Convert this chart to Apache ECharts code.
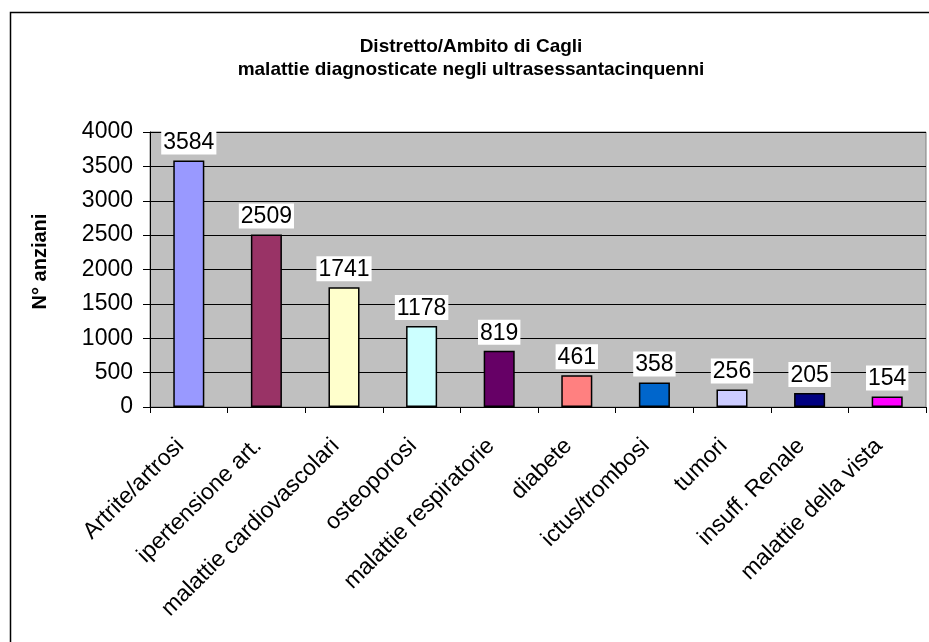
<!DOCTYPE html>
<html><head><meta charset="utf-8">
<script src="https://cdn.jsdelivr.net/npm/echarts@6/dist/echarts.min.js"></script>
<style>html,body{margin:0;padding:0;background:#fff}#c{width:929px;height:642px}</style>
</head><body><div id="c"></div>
<script>
const categories = ['Artrite/artrosi','ipertensione art.','malattie cardiovascolari','osteoporosi','malattie respiratorie','diabete','ictus/trombosi','tumori','insuff. Renale','malattie della vista'];
const values = [3584,2509,1741,1178,819,461,358,256,205,154];
const barColors = ['#9999FF','#993366','#FFFFCC','#CCFFFF','#660066','#FF8080','#0066CC','#CCCCFF','#000080','#FF00FF'];
const titleText = 'Distretto/Ambito di Cagli\nmalattie diagnosticate negli ultrasessantacinquenni';
const yName = 'N° anziani';

const chart = echarts.init(document.getElementById('c'), null, {renderer:'canvas'});
chart.setOption({
  animation:false,
  backgroundColor:'#fff',
  textStyle:{fontFamily:'Arial, "Liberation Sans", sans-serif'},
  title:{text:titleText,left:466,top:30,textAlign:'center',
    textStyle:{fontSize:19,fontWeight:'bold',color:'#000',lineHeight:23,fontFamily:'Arial, "Liberation Sans", sans-serif'}},
  graphic:[{type:'rect',left:8,top:10,shape:{width:1000,height:700},style:{fill:null,stroke:'#000',lineWidth:1.5},silent:true}],
  grid:{left:150,right:3,top:132,bottom:235,show:true,backgroundColor:'#C0C0C0',borderColor:'#808080',borderWidth:1},
  xAxis:{type:'category',data:categories,
    axisLine:{lineStyle:{color:'#000',width:1}},
    axisTick:{show:true,length:6,lineStyle:{color:'#000'}},
    axisLabel:{rotate:45,interval:0,fontSize:23,color:'#000',margin:27,padding:[0,12,0,0],fontFamily:'Arial, "Liberation Sans", sans-serif'}},
  yAxis:{type:'value',min:0,max:4000,interval:500,
    name:yName,nameLocation:'middle',nameGap:100,
    nameTextStyle:{fontSize:20,fontWeight:'bold',color:'#000',padding:[0,0,0,16]},
    axisLine:{show:true,lineStyle:{color:'#000',width:1}},
    axisTick:{show:true,length:7,lineStyle:{color:'#000'}},
    axisLabel:{fontSize:23,color:'#000',margin:17,formatter:v=>String(v)},
    splitLine:{show:true,lineStyle:{color:'#000',width:1}}},
  series:[{type:'bar',barWidth:'40%',
    data:values.map((v,i)=>({value:v,itemStyle:{color:barColors[i]}})),
    itemStyle:{borderColor:'#000',borderWidth:1.5},
    label:{show:true,position:'top',distance:6,fontSize:23,color:'#000',backgroundColor:'#fff',padding:[2,2,0,2]}}]
});
</script></body></html>
